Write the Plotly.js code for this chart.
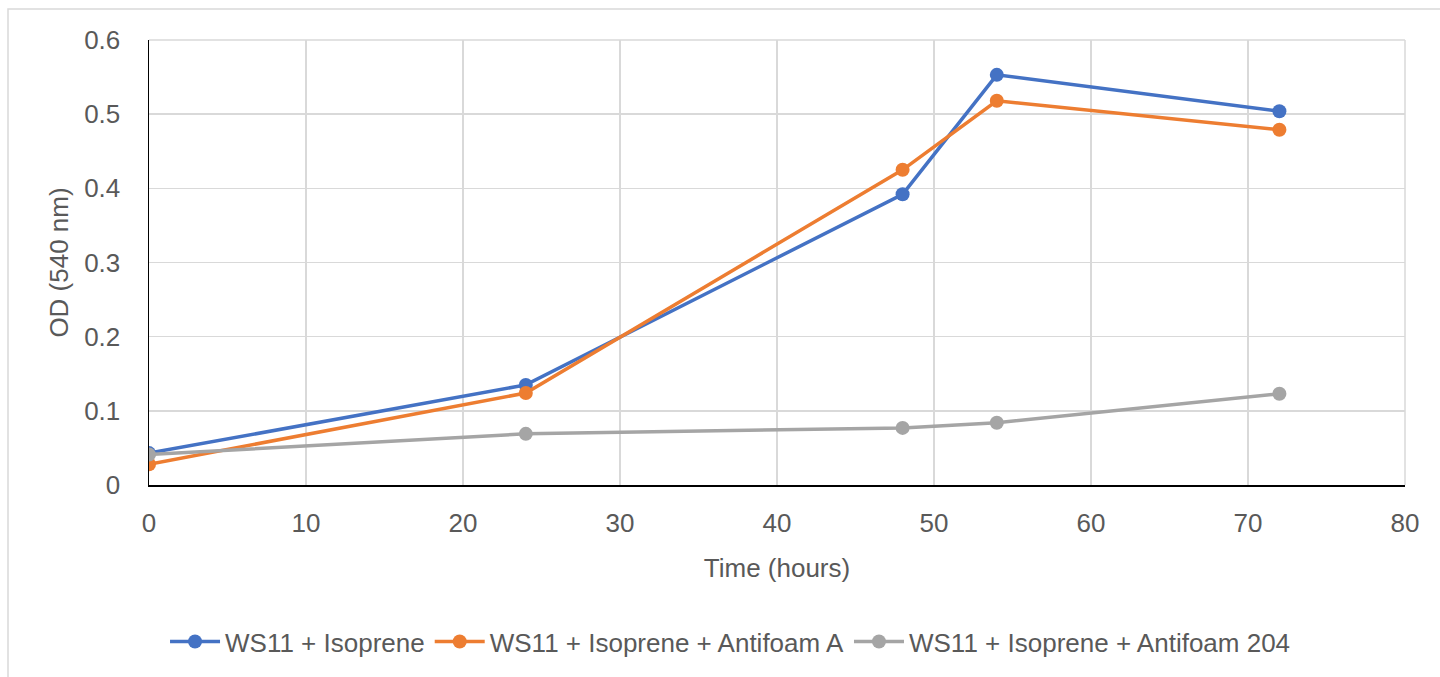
<!DOCTYPE html>
<html>
<head>
<meta charset="utf-8">
<script src="https://cdn.plot.ly/plotly-3.0.1.min.js"></script>
<style>
html,body{margin:0;padding:0;background:#fff;}
#chart{width:1440px;height:677px;}
</style>
</head>
<body>
<div id="chart"></div>
<script>
const timeHours = [0, 24, 48, 54, 72];
const seriesNames = ["WS11 + Isoprene", "WS11 + Isoprene + Antifoam A", "WS11 + Isoprene + Antifoam 204"];
const isoprene = [0.043, 0.135, 0.392, 0.553, 0.504];
const antifoamA = [0.028, 0.124, 0.425, 0.518, 0.479];
const antifoam204 = [0.041, 0.069, 0.077, 0.084, 0.123];
const seriesColors = ["#4472C4", "#ED7D31", "#A5A5A5"];
const xTicks = [0, 10, 20, 30, 40, 50, 60, 70, 80];
const yTicks = [0, 0.1, 0.2, 0.3, 0.4, 0.5, 0.6];
const yTickText = ["0", "0.1", "0.2", "0.3", "0.4", "0.5", "0.6"];

const allSeries = [isoprene, antifoamA, antifoam204];
const font = "Liberation Sans, Arial, sans-serif";
const textColor = "#595959";
const fs = 26;

const traces = allSeries.map((ys, i) => ({
  x: timeHours,
  y: ys,
  name: seriesNames[i],
  type: "scatter",
  mode: "lines+markers",
  line: {color: seriesColors[i], width: 3.5},
  marker: {color: seriesColors[i], size: 14}
}));

const layout = {
  width: 1440,
  height: 677,
  margin: {l: 149, r: 35, t: 40, b: 192},
  paper_bgcolor: "#fff",
  plot_bgcolor: "#fff",
  font: {family: font, color: textColor, size: fs},
  showlegend: true,
  legend: {
    orientation: "h",
    x: 0.463, xanchor: "center",
    y: -0.352, yanchor: "middle",
    font: {family: font, color: textColor, size: fs},
    itemwidth: 50
  },
  xaxis: {
    range: [0, 80],
    tickvals: xTicks,
    ticktext: xTicks.map(String),
    showgrid: true,
    gridcolor: "#d9d9d9",
    gridwidth: 1.5,
    zeroline: false,
    showline: true,
    linecolor: "#000",
    linewidth: 1.5,
    ticks: "",
    ticklabelstandoff: 14,
    tickfont: {family: font, color: textColor, size: fs},
    title: {text: "Time (hours)", font: {family: font, color: textColor, size: fs}, standoff: 22},
    fixedrange: true
  },
  yaxis: {
    range: [0, 0.6],
    tickvals: yTicks,
    ticktext: yTickText,
    showgrid: true,
    gridcolor: "#d9d9d9",
    gridwidth: 1.5,
    zeroline: false,
    showline: true,
    linecolor: "#000",
    linewidth: 1.5,
    ticks: "",
    ticklabelstandoff: 22,
    tickfont: {family: font, color: textColor, size: fs},
    title: {text: "OD (540 nm)", font: {family: font, color: textColor, size: fs}, standoff: 8},
    fixedrange: true
  },
  shapes: [
    {type: "rect", xref: "paper", yref: "paper",
     x0: (8 - 149) / 1256, x1: (1450 - 149) / 1256,
     y0: (485 - 690) / 445, y1: (485 - 9) / 445,
     line: {color: "#d9d9d9", width: 1.5}, fillcolor: "rgba(0,0,0,0)", layer: "below"},
    {type: "line", xref: "paper", yref: "paper",
     x0: 1, x1: 1, y0: 0, y1: 1,
     line: {color: "#d9d9d9", width: 1.5}, layer: "below"},
    {type: "line", xref: "paper", yref: "paper",
     x0: 0, x1: 1, y0: 1, y1: 1,
     line: {color: "#d9d9d9", width: 1.5}, layer: "below"}
  ]
};

Plotly.newPlot("chart", traces, layout, {displayModeBar: false, staticPlot: true});
</script>
</body>
</html>
